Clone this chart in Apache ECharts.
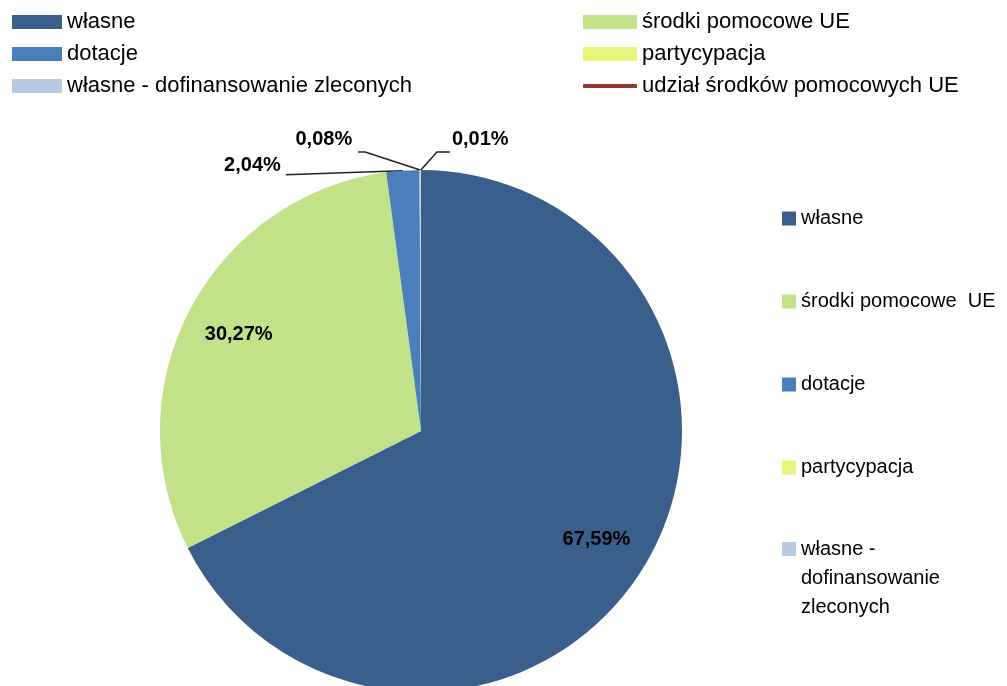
<!DOCTYPE html>
<html>
<head>
<meta charset="utf-8">
<title>Struktura - udział</title>
<script src="https://cdn.jsdelivr.net/npm/echarts@6/dist/echarts.min.js"></script>
<style>
  html, body { margin: 0; padding: 0; background: #fff; }
  #chart { width: 1007px; height: 686px; }
</style>
</head>
<body>
<div id="chart"></div>
<script>
// dane (kolejność wycinków zgodnie z ruchem wskazówek zegara)
var names = ['własne', 'środki pomocowe UE', 'dotacje', 'własne - dofinansowanie zleconych', 'partycypacja'];
var values = [67.59, 30.27, 2.04, 0.08, 0.01];
var colors = ['#3b5f8c', '#c2e28a', '#4b7fbc', '#b8cbe3', '#e8f47c'];
var lineName = 'udział środków pomocowych UE';

// kolejność w legendach
var topLeft = ['własne', 'dotacje', 'własne - dofinansowanie zleconych'];
var topRight = ['środki pomocowe UE', 'partycypacja'];
var sideOrder = ['własne', 'środki pomocowe UE', 'dotacje', 'partycypacja'];
var sideLast = ['własne - dofinansowanie zleconych'];

var cx = 421, cy = 431, R = 261;
var total = values.reduce(function (a, b) { return a + b; }, 0);

function midAngle(i) {
    var before = 0;
    for (var k = 0; k < i; k++) before += values[k];
    return (before + values[i] / 2) / total * Math.PI * 2;
}

var chart = echarts.init(document.getElementById('chart'));

var pieData = names.map(function (n, i) {
    var d = { name: n, value: values[i], itemStyle: { color: colors[i] } };
    if (i < 2) {
        d.label = { position: 'inside' };
        d.labelLine = { show: false };
    }
    return d;
});

var legendText = { fontFamily: 'Liberation Sans', fontSize: 22, color: '#000', lineHeight: 22 };
var sideText = { fontFamily: 'Liberation Sans', fontSize: 20, color: '#000', lineHeight: 29 };

var option = {
    animation: false,
    backgroundColor: '#fff',
    grid: { show: false, left: 0, top: 0, width: 1, height: 1 },
    xAxis: { show: false, type: 'category', data: [] },
    yAxis: { show: false, type: 'value' },
    legend: [
        {
            orient: 'vertical', left: 7, top: 6,
            itemWidth: 50, itemHeight: 14, itemGap: 10,
            icon: 'rect', selectedMode: false,
            data: topLeft,
            textStyle: legendText
        },
        {
            orient: 'vertical', left: 578, top: 6,
            itemWidth: 54, itemHeight: 14, itemGap: 10,
            icon: 'rect', selectedMode: false,
            data: topRight,
            textStyle: legendText
        },
        {
            orient: 'vertical', left: 578, top: 70,
            itemWidth: 54, itemHeight: 4,
            icon: 'roundRect', selectedMode: false,
            data: [lineName],
            textStyle: legendText
        },
        {
            orient: 'vertical', left: 777, top: 199,
            itemWidth: 14, itemHeight: 14, itemGap: 54,
            icon: 'rect', selectedMode: false,
            data: sideOrder,
            formatter: function (n) {
                return n === 'środki pomocowe UE' ? 'środki pomocowe  UE' : n;
            },
            textStyle: sideText
        },
        {
            // pierwsza linia opisu na wysokości ikony: górny padding = 2 wiersze
            orient: 'vertical', left: 777, top: 476,
            itemWidth: 14, itemHeight: 14,
            icon: 'rect', selectedMode: false,
            data: sideLast,
            formatter: function () {
                return '{m|własne -\ndofinansowanie\nzleconych}';
            },
            textStyle: {
                fontFamily: 'Liberation Sans', fontSize: 20, color: '#000', lineHeight: 29,
                rich: {
                    m: { fontFamily: 'Liberation Sans', fontSize: 20, color: '#000', lineHeight: 29, padding: [58, 0, 0, 0] }
                }
            }
        }
    ],
    series: [
        {
            type: 'line',
            name: lineName,
            data: [],
            itemStyle: { color: '#953735' },
            lineStyle: { color: '#953735', width: 3 }
        },
        {
            type: 'pie',
            center: [cx, cy],
            radius: R,
            startAngle: 90,
            clockwise: true,
            avoidLabelOverlap: false,
            data: pieData,
            label: {
                show: true,
                position: 'outside',
                fontFamily: 'Liberation Sans',
                fontWeight: 'bold',
                fontSize: 20,
                color: '#000',
                formatter: function (p) {
                    return p.value.toFixed(2).replace('.', ',') + '%';
                }
            },
            labelLine: {
                show: true,
                lineStyle: { color: '#222', width: 1.5 }
            },
            labelLayout: function (p) {
                var i = p.dataIndex;
                var a = midAngle(i);
                if (i < 2) {
                    return {
                        x: cx + 0.79 * R * Math.sin(a),
                        y: cy - 0.79 * R * Math.cos(a),
                        align: 'center', verticalAlign: 'middle'
                    };
                }
                var ex = cx + R * Math.sin(a), ey = cy - R * Math.cos(a);
                if (i === 2) {
                    return {
                        x: ex - 122, y: ey - 5, align: 'right', verticalAlign: 'middle',
                        labelLinePoints: [[ex, ey], [ex - 60, ey + 2], [ex - 117, ey + 4]]
                    };
                }
                if (i === 3) {
                    return {
                        x: ex - 68, y: ey - 31, align: 'right', verticalAlign: 'middle',
                        labelLinePoints: [[ex, ey], [ex - 55, ey - 18], [ex - 62, ey - 18]]
                    };
                }
                return {
                    x: ex + 31, y: ey - 31, align: 'left', verticalAlign: 'middle',
                    labelLinePoints: [[ex, ey], [ex + 16, ey - 18], [ex + 29, ey - 18]]
                };
            }
        }
    ]
};

chart.setOption(option);
</script>
</body>
</html>
